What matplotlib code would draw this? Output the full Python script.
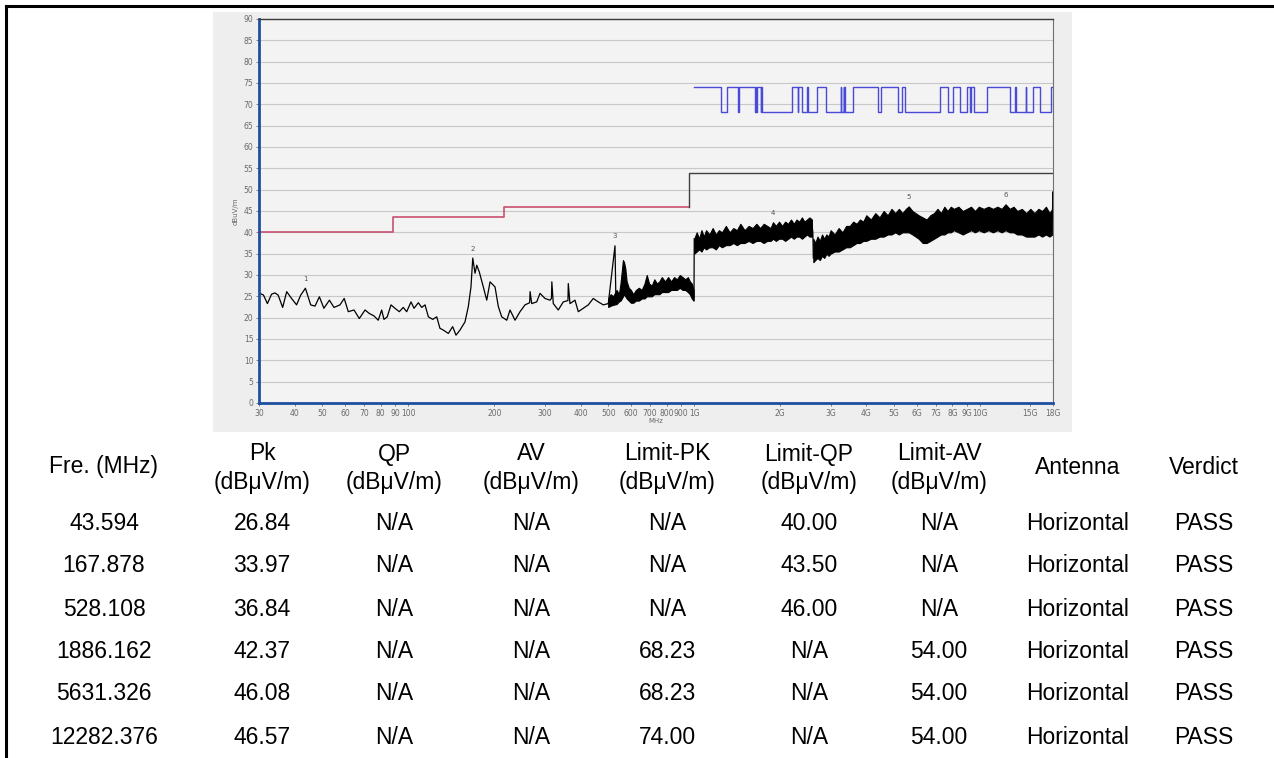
import numpy as np
import matplotlib.pyplot as plt
from matplotlib.lines import Line2D
from matplotlib.patches import Rectangle

W, H = 1274, 758

# ---- measured trace (30 MHz - 500 MHz), single line
trace_f = [30, 31.1, 32.1, 33.2, 34.1, 35.0, 36.3, 37.5, 39.0, 40.6, 42.0, 43.6,
           45.5, 47.1, 48.8, 50.6, 52.9, 54.9, 57.6, 59.6, 61.6, 64.5, 67.3, 70.5,
           72.9, 75.8, 78.4, 80.6, 82.1, 84.3, 86.9, 89.7, 92.9, 95.9, 98.6, 102.1,
           104.6, 108.3, 111.3, 114.3, 117.4, 121.6, 125.6, 128.9, 132.4, 137.9,
           142.8, 146.7, 151.5, 157.7, 162.0, 165.5, 167.9, 171.0, 173.4, 177.0,
           182.8, 187.9, 193.0, 200.9, 206.3, 212.0, 220.8, 226.7, 236.0, 245.7,
           255.8, 265.5, 266.5, 270.0, 281.1, 288.6, 300.5, 312.8, 316.5, 317.5,
           321.2, 334.4, 348.2, 361.5, 362.5, 367.5, 382.6, 392.9, 409.0, 425.8,
           443.3, 461.6, 480.5, 500.3]
trace_db = [25.8, 25.3, 23.3, 25.5, 25.8, 25.3, 22.4, 26.1, 24.5, 23.0, 25.3, 26.9,
            23.0, 22.7, 24.9, 22.2, 24.1, 22.4, 23.0, 24.5, 21.4, 21.8, 19.8, 21.8,
            21.0, 20.4, 19.4, 21.8, 19.6, 20.2, 23.0, 22.2, 21.4, 22.4, 21.4, 23.7,
            22.2, 23.5, 22.4, 23.0, 20.2, 19.6, 20.2, 17.5, 17.1, 16.3, 17.9, 15.9,
            17.1, 19.0, 22.6, 27.2, 33.97, 30.4, 32.3, 30.7, 27.2, 24.1, 28.4,
            27.2, 22.6, 20.2, 19.4, 21.8, 19.4, 21.4, 23.0, 23.5, 26.1, 23.3, 23.7,
            25.7, 24.5, 24.1, 24.5, 28.4, 23.3, 21.8, 23.7, 24.0, 28.0, 23.3, 24.1,
            21.4, 22.2, 23.0, 24.5, 23.7, 23.0, 23.3]

# ---- noisy band 500 MHz - 1 GHz (upper / lower envelope)
bandA_f = [500, 510, 520, 535, 545, 552, 558, 563, 568, 574, 580, 590, 600, 612,
           625, 640, 655, 670, 682, 695, 710, 725, 740, 755, 770, 790, 810, 830,
           850, 870, 890, 910, 930, 950, 965, 980, 995]
bandA_hi = [24.5, 25.5, 25.0, 26.5, 25.5, 28.0, 31.0, 33.5, 33.0, 31.5, 28.5, 27.0,
            26.5, 25.5, 26.5, 27.0, 26.5, 28.0, 30.0, 28.0, 27.5, 29.0, 28.0, 28.5,
            29.5, 28.5, 29.5, 28.5, 29.5, 29.0, 30.0, 29.5, 29.0, 29.5, 28.5, 28.0, 26.5]
bandA_lo = [22.5, 22.8, 23.0, 23.2, 23.8, 24.0, 24.5, 25.0, 25.5, 25.0, 24.5, 24.0,
            23.5, 23.5, 24.0, 24.0, 24.5, 24.5, 25.0, 25.0, 25.0, 25.5, 25.5, 25.5,
            26.0, 26.0, 26.0, 26.5, 26.5, 26.5, 27.0, 26.5, 26.5, 26.0, 25.5, 24.5, 24.0]

# ---- noisy band 1 GHz - 2.6 GHz
bandB_f = [1000, 1020, 1040, 1060, 1080, 1100, 1130, 1160, 1190, 1220, 1250, 1290,
           1330, 1370, 1410, 1450, 1500, 1550, 1600, 1650, 1700, 1750, 1800, 1850,
           1886, 1930, 1980, 2030, 2080, 2130, 2180, 2230, 2280, 2330, 2380, 2430,
           2480, 2530, 2580]
bandB_hi = [38.5, 40.0, 38.5, 40.5, 39.0, 40.5, 39.5, 41.0, 39.5, 40.5, 40.0, 41.5,
            40.0, 41.0, 40.5, 42.0, 40.5, 41.5, 41.0, 42.0, 41.0, 42.0, 41.5, 41.0,
            42.37, 41.5, 42.5, 41.5, 42.5, 42.0, 43.0, 42.0, 43.0, 42.5, 43.5, 42.5,
            43.0, 43.5, 43.0]
bandB_lo = [35.0, 35.5, 36.0, 35.5, 36.5, 36.0, 36.5, 36.5, 36.0, 37.0, 36.5, 37.0,
            37.0, 37.5, 37.0, 37.5, 37.5, 38.0, 37.5, 38.0, 38.0, 37.5, 38.0, 38.0,
            38.5, 38.0, 38.5, 38.5, 38.0, 38.5, 39.0, 38.5, 39.0, 39.0, 38.5, 39.0,
            39.5, 39.0, 39.0]

# ---- noisy band 2.6 GHz - 18 GHz
bandC_f = [2610, 2650, 2700, 2750, 2800, 2850, 2900, 2950, 3000, 3100, 3200, 3300,
           3400, 3500, 3600, 3700, 3800, 3900, 4000, 4150, 4300, 4450, 4600, 4750,
           4900, 5050, 5200, 5350, 5500, 5631, 5800, 5950, 6100, 6300, 6500, 6700,
           6900, 7100, 7300, 7500, 7700, 7900, 8100, 8400, 8700, 9000, 9300, 9600,
           9900, 10300, 10700, 11100, 11500, 11900, 12282, 12700, 13100, 13500,
           14000, 14500, 15000, 15500, 16000, 16500, 17000, 17500, 17900]
bandC_hi = [38.5, 37.5, 39.0, 38.0, 39.5, 38.5, 39.5, 39.0, 40.5, 39.5, 41.0, 40.0,
            41.5, 41.5, 42.5, 42.0, 43.0, 42.5, 44.0, 43.0, 44.5, 43.5, 45.0, 44.0,
            45.5, 44.5, 45.5, 44.5, 45.5, 46.08, 45.0, 44.5, 44.0, 43.5, 43.0, 44.0,
            44.5, 45.5, 44.5, 46.0, 45.0, 46.0, 45.5, 46.0, 45.0, 45.5, 46.0, 45.0,
            46.0, 45.5, 46.0, 45.5, 46.0, 45.5, 46.57, 45.5, 46.0, 45.0, 45.5, 44.5,
            45.5, 44.5, 45.5, 45.0, 46.0, 44.5, 45.5]
bandC_lo = [33.0, 33.5, 34.0, 33.5, 34.5, 34.0, 35.0, 34.5, 35.0, 35.5, 35.5, 36.0,
            36.5, 36.5, 37.0, 37.5, 37.5, 38.0, 38.0, 38.5, 38.5, 39.0, 39.0, 39.5,
            39.5, 40.0, 39.5, 40.0, 40.0, 40.0, 39.5, 39.0, 38.5, 37.5, 37.5, 38.0,
            38.5, 39.0, 39.5, 39.5, 40.0, 40.0, 40.5, 40.0, 39.5, 40.0, 40.5, 40.0,
            40.5, 40.0, 40.5, 40.0, 40.5, 40.0, 40.5, 40.0, 40.0, 39.5, 39.5, 39.0,
            39.0, 39.0, 39.5, 39.0, 39.5, 39.0, 39.5]

# ---- step joints / end spike
joint_f = [500.3, 528.1, 532, 995, 998, 1000, 2580, 2600, 2610, 17900, 17990, 18000]
joint_db = [23.3, 36.84, 24.0, 24.0, 24.5, 38.5, 42.0, 40.0, 34.0, 43.0, 49.5, 44.0]

# ---- limits
qp_f = [30, 88, 88, 216, 216, 960]
qp_db = [40, 40, 43.5, 43.5, 46, 46]
av_f = [960, 960, 18000]
av_db = [46, 54, 54]
restricted = [(960, 1240), (1300, 1427), (1435, 1626.5), (1645.5, 1646.5), (1660, 1710),
              (1718.8, 1722.2), (2200, 2300), (2310, 2390), (2483.5, 2500), (2690, 2900),
              (3260, 3267), (3332, 3339), (3345.8, 3358), (3600, 4400), (4500, 5150),
              (5350, 5460), (7250, 7750), (8025, 8500), (9000, 9200), (9300, 9500),
              (10600, 12700), (13250, 13400), (14470, 14500), (15350, 16200), (17700, 21400)]
pk_hi, pk_lo = 74.0, 68.23

# ---- markers
mark_f = [43.594, 167.878, 528.108, 1886.162, 5631.326, 12282.376]
mark_db = [26.84, 33.97, 36.84, 42.37, 46.08, 46.57]

xticks = [30, 40, 50, 60, 70, 80, 90, 100, 200, 300, 400, 500, 600, 700, 800, 900,
          1000, 2000, 3000, 4000, 5000, 6000, 7000, 8000, 9000, 10000, 15000, 18000]
xtick_labels = ['30', '40', '50', '60', '70', '80', '90', '100', '200', '300', '400',
                '500', '600', '700', '800', '900', '1G', '2G', '3G', '4G', '5G', '6G',
                '7G', '8G', '9G', '10G', '15G', '18G']

# ---- table
head_top = ["", "Pk", "QP", "AV", "Limit-PK", "Limit-QP", "Limit-AV", "", ""]
head_bot = ["", "(dBμV/m)", "(dBμV/m)", "(dBμV/m)", "(dBμV/m)", "(dBμV/m)", "(dBμV/m)", "", ""]
head_single = ["Fre. (MHz)", "", "", "", "", "", "", "Antenna", "Verdict"]
freqs = ["43.594", "167.878", "528.108", "1886.162", "5631.326", "12282.376"]
pk = ["26.84", "33.97", "36.84", "42.37", "46.08", "46.57"]
qp = ["N/A"] * 6
av = ["N/A"] * 6
lim_pk = ["N/A", "N/A", "N/A", "68.23", "68.23", "74.00"]
lim_qp = ["40.00", "43.50", "46.00", "N/A", "N/A", "N/A"]
lim_av = ["N/A", "N/A", "N/A", "54.00", "54.00", "54.00"]
antenna = ["Horizontal"] * 6
verdict = ["PASS"] * 6


def fx(x):
    return x / W


def fy(y):
    return 1 - y / H


fig = plt.figure(figsize=(W / 100, H / 100), dpi=100)
fig.patch.set_facecolor('white')

# outer frame (left and top edges of the table)
for xs, ys in [((6, 6), (6, H)), ((6, W), (6, 6))]:
    fig.add_artist(Line2D([fx(v) for v in xs], [fy(v) for v in ys], color='black', lw=2.2))

# chart image background
fig.add_artist(Rectangle((fx(213), fy(432)), fx(1072) - fx(213), fy(12) - fy(432),
                         facecolor='#eeeeee', edgecolor='none', zorder=0))

ax = fig.add_axes([fx(259), fy(403), fx(1053) - fx(259), fy(19) - fy(403)])
ax.set_facecolor('#f3f3f3')
ax.set_xscale('log')
ax.set_xlim(30, 18000)
ax.set_ylim(0, 90)
ax.set_yticks(range(0, 91, 5))
ax.yaxis.grid(True, color='#c8c8c8', lw=0.8)
ax.set_axisbelow(True)
ax.set_xticks(xticks)
ax.set_xticklabels(xtick_labels)
ax.xaxis.set_minor_locator(plt.NullLocator())
ax.tick_params(axis='both', labelsize=5.5, colors='#6a6a6a', length=2, width=0.6, pad=2)
ax.set_xlabel('MHz', fontsize=5, color='#6a6a6a', labelpad=0)
ax.set_ylabel('dBuV/m', fontsize=5, color='#6a6a6a', labelpad=4)

for side in ['left', 'bottom']:
    ax.spines[side].set_color('#1f4f9f')
    ax.spines[side].set_linewidth(2)
ax.spines['top'].set_color('#3a3a3a')
ax.spines['top'].set_linewidth(1)
ax.spines['right'].set_color('#707070')
ax.spines['right'].set_linewidth(0.8)

# limit lines
ax.plot(qp_f, qp_db, color='#c8506e', lw=1.2)
ax.plot(av_f, av_db, color='#404040', lw=1.0)
pk_f, pk_v = [1000], [pk_hi]
for lo, hi in restricted:
    if hi < 1000:
        continue
    lo = max(lo, 1000)
    if lo > pk_f[-1]:
        pk_f += [lo, lo]
        pk_v += [pk_lo, pk_hi]
    pk_f += [min(hi, 18000), min(hi, 18000)]
    pk_v += [pk_hi, pk_lo if hi < 18000 else pk_hi]
pk_f.append(18000)
pk_v.append(pk_v[-1])
ax.plot(pk_f, pk_v, color='#4a4ad8', lw=1.0)

# trace
ax.plot(trace_f, trace_db, color='black', lw=0.9)
for bf, bh, bl in [(bandA_f, bandA_hi, bandA_lo), (bandB_f, bandB_hi, bandB_lo),
                   (bandC_f, bandC_hi, bandC_lo)]:
    ax.fill_between(bf, bl, bh, color='black', lw=0.8)
for k in range(0, 12, 3):
    ax.plot(joint_f[k:k + 3], joint_db[k:k + 3], color='black', lw=0.9)

for i, (f, d) in enumerate(zip(mark_f, mark_db)):
    ax.text(f, d + 1.5, str(i + 1), fontsize=5, color='#555555', ha='center', va='bottom')

# table
col_x = [104, 262, 394, 531, 667, 809, 939, 1078, 1204]
row_y = [523, 566, 609, 652, 694, 737]
tfont = dict(family='Liberation Sans', fontsize=16.5, color='black', ha='center', va='center')
for cx, t1, t2, ts in zip(col_x, head_top, head_bot, head_single):
    if ts:
        fig.text(fx(cx), fy(467), ts, **tfont)
    else:
        fig.text(fx(cx), fy(454), t1, **tfont)
        fig.text(fx(cx), fy(482), t2, **tfont)
columns = [freqs, pk, qp, av, lim_pk, lim_qp, lim_av, antenna, verdict]
for cx, col in zip(col_x, columns):
    for ry, val in zip(row_y, col):
        fig.text(fx(cx), fy(ry), val, **tfont)

fig.savefig('out.png', dpi=100)
